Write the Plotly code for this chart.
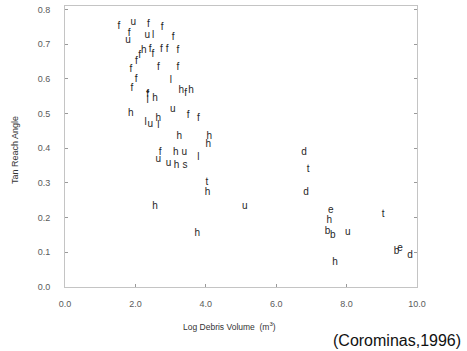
import plotly.graph_objects as go

# Letter codes of each debris event (as printed on the chart)
letters = ["f", "u", "f", "f", "f", "u", "u", "l", "f", "h",
           "f", "f", "f", "f", "f", "f", "f", "f", "f", "f",
           "f", "f", "l", "f", "•", "l", "h", "h", "f", "h",
           "h", "u", "f", "f", "l", "u", "h", "l", "h", "h",
           "h", "f", "h", "u", "u", "u", "h", "s", "l", "t",
           "h", "h", "u", "h", "d", "t", "d", "e", "h", "b",
           "b", "u", "t", "h", "b", "e", "d", "d"]

# Log debris volume (m3)
log_volume = [1.53, 1.94, 2.37, 2.76, 1.82, 1.79, 2.34, 2.50, 3.07, 2.24,
              2.42, 2.50, 2.74, 2.90, 3.21, 2.12, 2.03, 1.87, 2.65, 3.21,
              2.02, 1.90, 3.01, 2.35, 2.35, 2.35, 2.56, 3.30, 3.43, 3.58,
              1.87, 3.06, 3.50, 3.79, 2.29, 2.42, 2.65, 2.65, 3.25, 4.10,
              4.07, 2.70, 3.15, 3.39, 2.65, 2.94, 3.17, 3.41, 3.79, 4.03,
              4.05, 2.56, 5.11, 3.76, 6.79, 6.91, 6.85, 7.55, 7.51, 7.46,
              7.61, 8.03, 9.04, 7.67, 9.42, 9.52, 9.80, 10.07]

# Tangent of reach angle
tan_reach = [0.750, 0.762, 0.757, 0.749, 0.730, 0.712, 0.724, 0.724, 0.719, 0.683,
             0.686, 0.669, 0.684, 0.684, 0.683, 0.668, 0.650, 0.626, 0.632, 0.632,
             0.597, 0.573, 0.594, 0.556, 0.562, 0.538, 0.542, 0.565, 0.557, 0.565,
             0.501, 0.513, 0.493, 0.486, 0.473, 0.468, 0.486, 0.466, 0.434, 0.434,
             0.410, 0.388, 0.388, 0.388, 0.367, 0.357, 0.350, 0.350, 0.372, 0.302,
             0.271, 0.233, 0.232, 0.153, 0.388, 0.340, 0.271, 0.220, 0.191, 0.159,
             0.149, 0.158, 0.209, 0.071, 0.101, 0.110, 0.091, 0.071]

x_ticks = [0, 2, 4, 6, 8, 10]
y_ticks = [0.0, 0.1, 0.2, 0.3, 0.4, 0.5, 0.6, 0.7, 0.8]

FONT = "Liberation Sans, Arial, Helvetica, sans-serif"
AXIS_GREY = "#c4c4c4"
LABEL_GREY = "#5a5a5a"

fig = go.Figure()
fig.add_trace(go.Scatter(
    x=log_volume, y=tan_reach, text=letters, mode="text",
    textposition="middle center",
    textfont=dict(family=FONT, size=10, color="#262626"),
    cliponaxis=False, showlegend=False, hoverinfo="x+y+text",
))

fig.update_layout(
    width=467, height=351,
    margin=dict(l=65, r=50, t=6, b=64),
    paper_bgcolor="white", plot_bgcolor="white",
    showlegend=False,
    font=dict(family=FONT, color=LABEL_GREY),
)

fig.update_xaxes(
    range=[0, 10], tickvals=x_ticks, tickformat=".1f",
    showgrid=False, zeroline=False,
    showline=True, linecolor=AXIS_GREY, linewidth=1, mirror=True,
    ticks="inside", ticklen=3, tickcolor="#9a9a9a", tickwidth=1,
    tickfont=dict(family=FONT, size=9, color=LABEL_GREY),
    ticklabelstandoff=8,
)
fig.update_yaxes(
    range=[0, 0.81], tickvals=y_ticks, tickformat=".1f",
    showgrid=False, zeroline=False,
    showline=True, linecolor=AXIS_GREY, linewidth=1, mirror="ticks",
    ticks="inside", ticklen=3, tickcolor="#9a9a9a", tickwidth=1,
    tickfont=dict(family=FONT, size=9, color=LABEL_GREY),
    ticklabelstandoff=12,
)

fig.add_annotation(
    text="Log Debris Volume  (m<sup>3</sup>)", xref="paper", yref="paper",
    x=0.466, y=-0.142, showarrow=False, xanchor="center", yanchor="middle",
    font=dict(family=FONT, size=8.5, color="#333333"),
)
fig.add_annotation(
    text="Tan Reach Angle", xref="paper", yref="paper",
    x=-0.142, y=0.4875, showarrow=False, textangle=-90,
    xanchor="center", yanchor="middle",
    font=dict(family=FONT, size=9, color="#333333"),
)
fig.add_annotation(
    text="(Corominas,1996)", xref="paper", yref="paper",
    x=0.942, y=-0.192, showarrow=False, xanchor="center", yanchor="middle",
    font=dict(family=FONT, size=16, color="#111111"),
)

fig.write_html("out.html")
